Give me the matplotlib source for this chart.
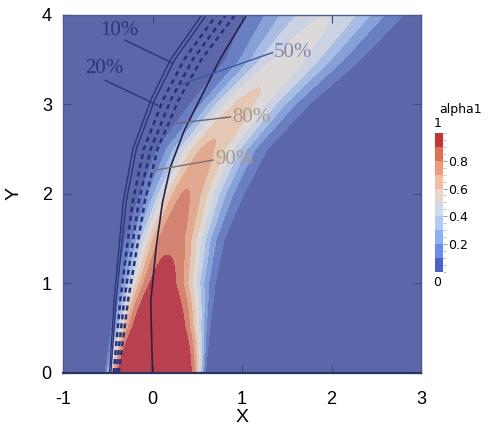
import numpy as np
import matplotlib
matplotlib.use("Agg")
import matplotlib.pyplot as plt
import matplotlib as mpl
from matplotlib.colors import ListedColormap, BoundaryNorm

# plume description (value of alpha1 across the jet)
y_levels = [0.0, 0.5, 1.0, 1.5, 2.0, 2.5, 3.0, 3.5, 4.0]
centre_x = [0.0, 0.04, 0.1, 0.2, 0.36, 0.6, 1.0, 1.5, 1.95]
half_left = [0.53, 0.5, 0.5, 0.5, 0.5, 0.55, 0.58, 0.68, 0.92]
half_right = [0.59, 0.6, 0.6, 0.6, 0.66, 0.68, 0.75, 0.82, 0.85]
peak = [1.0, 1.0, 0.95, 0.87, 0.81, 0.72, 0.63, 0.55, 0.5]
shape_n = [10, 5, 2.8, 2.4, 2.0, 2.0, 2.0, 2.0, 2.0]

# experimental boundary band (left) and jet trajectory line
band_y = [0.0, 0.8, 1.9, 2.5, 3.05, 3.5, 4.0]
band_x = [-0.48, -0.43, -0.33, -0.22, -0.02, 0.2, 0.55]
band_w = [0.12, 0.18, 0.28, 0.32, 0.36, 0.4, 0.43]
traj_y = [0.0, 0.8, 1.4, 1.9, 2.3, 2.7, 3.1, 3.5, 4.0]
traj_x = [0.0, -0.02, 0.04, 0.11, 0.2, 0.35, 0.55, 0.75, 1.05]

labels = ["10%", "20%", "50%", "80%", "90%"]
label_xy = [(-0.58, 3.83), (-0.75, 3.4), (1.35, 3.58), (0.89, 2.86), (0.7, 2.38)]
leader_start = [(-0.31, 3.72), (-0.53, 3.27), (0.31, 3.22), (0.27, 2.79), (0.05, 2.27)]
leader_end = [(0.23, 3.46), (0.06, 2.99), (1.34, 3.58), (0.87, 2.86), (0.68, 2.38)]
label_colors = ["#2c3575", "#2c3575", "#7d8ab5", "#a89a8c", "#a89a8c"]
leader_colors = ["#2c3575", "#2c3575", "#3a5aa0", "#6a6478", "#7a7070"]

cbar_ticks = [0.2, 0.4, 0.6, 0.8]

# band colours as rendered in the picture (washed cool-to-warm)
band_colors = ["#5b67a8", "#6a7ec2", "#86a0d8", "#a8bde4", "#cbd3e3",
               "#ddd9d8", "#e4c8b3", "#e1a98f", "#d48572", "#b9404e"]

# field on a grid
xg = np.linspace(-1, 3, 401)
yg = np.linspace(0, 4, 401)
X, Y = np.meshgrid(xg, yg)
c = np.interp(Y, y_levels, centre_x)
hl = np.interp(Y, y_levels, half_left)
hr = np.interp(Y, y_levels, half_right)
p = np.interp(Y, y_levels, peak)
n = np.interp(Y, y_levels, shape_n)
d = X - c
s = np.where(d < 0, -d / hl, d / hr)
k = np.log(p / 0.1)
Z = p * np.exp(-k * s ** n)

lv = np.linspace(0, 1, 11)
wash = ListedColormap(band_colors)

fig = plt.figure(figsize=(4.92, 4.33), dpi=100)
ax = fig.add_axes([0.128, 0.1386, 0.728, 0.8268])
ax.contourf(X, Y, Z, levels=lv, cmap=wash, norm=BoundaryNorm(lv, 10))

# experimental band: two solid and three dashed arcs
by = np.linspace(0, 4, 200)
bx = np.interp(by, band_y, band_x)
bw = np.interp(by, band_y, band_w)
ax.plot(bx, by, color="#2a3478", lw=1.0)
ax.plot(bx + 0.12 * bw, by, color="#2a3478", lw=1.0)
for frac in [0.38, 0.62, 0.86]:
    ax.plot(bx + frac * bw, by, color="#28327a", lw=1.8, ls=(0, (2, 1.6)))
ax.plot(traj_x, traj_y, color="#2a1f45", lw=1.2)

for lab, xy, s0, s1, tc, lc in zip(labels, label_xy, leader_start, leader_end,
                                   label_colors, leader_colors):
    ax.plot([s0[0], s1[0]], [s0[1], s1[1]], color=lc, lw=1.0)
    ax.text(xy[0], xy[1], lab, color=tc, fontsize=15, family="Liberation Serif",
            va="center", ha="left")

ax.set_xlim(-1, 3)
ax.set_ylim(0, 4)
ax.set_xticks([-1, 0, 1, 2, 3])
ax.set_yticks([0, 1, 2, 3, 4])
ax.set_xticklabels(["-1", "0", "1", "2", "3"])
ax.tick_params(direction="in", length=6, width=0.8, color="#3a4a7a",
               top=True, right=True, labelsize=13, pad=8)
ax.tick_params(axis="x", pad=13)
for lab in ax.get_xticklabels() + ax.get_yticklabels():
    lab.set_family("Liberation Sans")
for sp in ax.spines.values():
    sp.set_color("#4a5a8a")
    sp.set_linewidth(1.0)
ax.spines["bottom"].set_color("#2a3460")
ax.spines["bottom"].set_linewidth(1.6)
ax.set_xlabel("X", fontsize=14, family="Liberation Sans", labelpad=1)
ax.set_ylabel("Y", fontsize=14, family="Liberation Sans", labelpad=14)

# colour bar
base = plt.get_cmap("coolwarm")
cax = fig.add_axes([0.884, 0.372, 0.0163, 0.321])
sm = mpl.cm.ScalarMappable(norm=BoundaryNorm(lv, 10),
                           cmap=ListedColormap(base((lv[:-1] + lv[1:]) / 2)))
cb = fig.colorbar(sm, cax=cax, ticks=cbar_ticks)
cb.outline.set_visible(False)
cb.ax.set_yticklabels(["0.2", "0.4", "0.6", "0.8"])
cb.ax.tick_params(length=3, width=0.6, color="#888888", labelsize=9, pad=1)
cb.ax.minorticks_on()
cb.ax.tick_params(which="minor", length=2, width=0.5, color="#aaaaaa")
cax.text(0.3, 1.02, "1", transform=cax.transAxes, fontsize=9, ha="center", va="bottom")
cax.text(0.3, -0.03, "0", transform=cax.transAxes, fontsize=9, ha="center", va="top")
cax.text(0.5, 1.12, "alpha1", transform=cax.transAxes, fontsize=9, ha="left", va="bottom")

fig.savefig("out.png", dpi=100)
